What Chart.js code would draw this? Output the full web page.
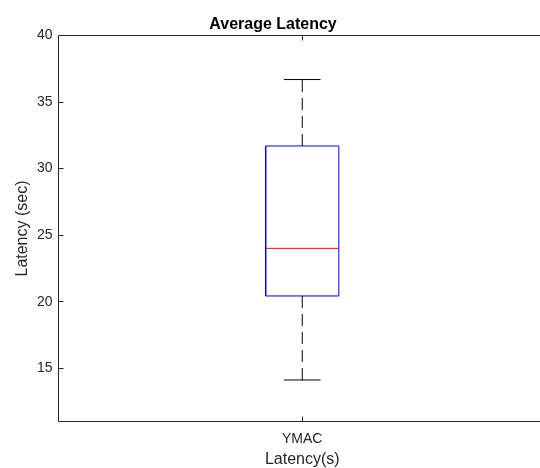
<!DOCTYPE html>
<html>
<head>
<meta charset="utf-8">
<script src="https://cdn.jsdelivr.net/npm/chart.js@4"></script>
<style>
  html, body { margin: 0; padding: 0; background: #fff; overflow: hidden; }
  #wrap { width: 548px; height: 468px; }
</style>
</head>
<body>
<div id="wrap"><canvas id="c" width="548" height="468"></canvas></div>
<script>
// ---- data ----
const categories = ['YMAC'];
const lowerWhisker = [14.12];
const q1Values = [20.43];
const medianValues = [24.01];
const q3Values = [31.70];
const upperWhisker = [36.69];
const yTicks = [15, 20, 25, 30, 35, 40];

// ---- styling constants ----
const BOX_HALF = 0.075;
const CAP_HALF = 0.0375;
const AXIS_COLOR = '#262626';
const FONT = 'Arial, "Liberation Sans", Helvetica, sans-serif';

const datasets = [];
categories.forEach((cat, i) => {
  const x = i + 1;
  datasets.push({
    label: cat + ' box',
    data: [
      {x: x - BOX_HALF, y: q1Values[i]}, {x: x + BOX_HALF, y: q1Values[i]},
      {x: x + BOX_HALF, y: q3Values[i]}, {x: x - BOX_HALF, y: q3Values[i]},
      {x: x - BOX_HALF, y: q1Values[i]}
    ],
    borderColor: '#0000FF', borderWidth: 1
  });
  datasets.push({
    label: cat + ' median',
    data: [{x: x - BOX_HALF, y: medianValues[i]}, {x: x + BOX_HALF, y: medianValues[i]}],
    borderColor: '#FF0000', borderWidth: 1
  });
  datasets.push({
    label: cat + ' upper whisker',
    data: [{x: x, y: q3Values[i]}, {x: x, y: upperWhisker[i]}],
    borderColor: '#000000', borderWidth: 1, borderDash: [12, 6]
  });
  datasets.push({
    label: cat + ' lower whisker',
    data: [{x: x, y: q1Values[i]}, {x: x, y: lowerWhisker[i]}],
    borderColor: '#000000', borderWidth: 1, borderDash: [12, 6]
  });
  datasets.push({
    label: cat + ' upper cap',
    data: [{x: x - CAP_HALF, y: upperWhisker[i]}, {x: x + CAP_HALF, y: upperWhisker[i]}],
    borderColor: '#000000', borderWidth: 1
  });
  datasets.push({
    label: cat + ' lower cap',
    data: [{x: x - CAP_HALF, y: lowerWhisker[i]}, {x: x + CAP_HALF, y: lowerWhisker[i]}],
    borderColor: '#000000', borderWidth: 1
  });
});
datasets.forEach(d => { d.pointRadius = 0; d.fill = false; d.tension = 0; });

const axesPlugin = {
  id: 'matlabAxes',
  afterDatasetsDraw(chart) {
    const ctx = chart.ctx;
    const a = chart.chartArea;
    const xs = chart.scales.x, ys = chart.scales.y;
    const L = Math.floor(a.left) + 0.5, R = Math.floor(a.right) + 0.5;
    const T = Math.floor(a.top) + 0.5, B = Math.floor(a.bottom) + 0.5;
    ctx.save();
    ctx.strokeStyle = AXIS_COLOR;
    ctx.lineWidth = 1;
    ctx.beginPath();
    ctx.moveTo(L, T); ctx.lineTo(R, T); ctx.lineTo(R, B); ctx.lineTo(L, B); ctx.closePath();
    ys.ticks.forEach(t => {
      const y = Math.floor(ys.getPixelForValue(t.value)) + 0.5;
      ctx.moveTo(L, y); ctx.lineTo(L + 5, y);
      ctx.moveTo(R, y); ctx.lineTo(R - 5, y);
    });
    xs.ticks.forEach(t => {
      const x = Math.floor(xs.getPixelForValue(t.value)) + 0.5;
      ctx.moveTo(x, B); ctx.lineTo(x, B - 5);
      ctx.moveTo(x, T); ctx.lineTo(x, T + 5);
    });
    ctx.stroke();
    ctx.restore();
  }
};

new Chart(document.getElementById('c'), {
  type: 'line',
  data: { datasets },
  options: {
    responsive: false,
    animation: false,
    parsing: true,
    layout: { padding: { left: 0, right: 2, top: 0, bottom: 0 } },
    plugins: {
      legend: { display: false },
      tooltip: { enabled: false },
      title: {
        display: true,
        text: 'Average Latency',
        color: '#000000',
        font: { family: FONT, size: 16, weight: 'bold' },
        padding: { top: 14.5, bottom: 1.8 }
      }
    },
    scales: {
      x: {
        type: 'linear',
        min: 0.5, max: 1.5,
        afterBuildTicks: (s) => { s.ticks = categories.map((c, i) => ({ value: i + 1 })); },
        afterFit: (s) => { s.height = 46.5; },
        grid: { display: false, drawTicks: false },
        border: { display: false },
        ticks: {
          color: AXIS_COLOR,
          font: { family: FONT, size: 14 },
          padding: 9,
          maxRotation: 0,
          callback: (v) => categories[Math.round(v) - 1] || ''
        },
        title: {
          display: true, text: 'Latency(s)', color: AXIS_COLOR,
          font: { family: FONT, size: 16 },
          padding: { top: 0, bottom: -1 }
        }
      },
      y: {
        type: 'linear',
        min: 11, max: 40,
        afterBuildTicks: (s) => { s.ticks = yTicks.map(v => ({ value: v })); },
        afterFit: (s) => { s.width = 58.5; },
        grid: { display: false, drawTicks: false },
        border: { display: false },
        ticks: {
          color: AXIS_COLOR,
          font: { family: FONT, size: 14 },
          padding: 6
        },
        title: {
          display: true, text: 'Latency (sec)', color: AXIS_COLOR,
          font: { family: FONT, size: 16 },
          padding: { top: 12.5, bottom: 0 }
        }
      }
    }
  },
  plugins: [axesPlugin]
});
</script>
</body>
</html>
